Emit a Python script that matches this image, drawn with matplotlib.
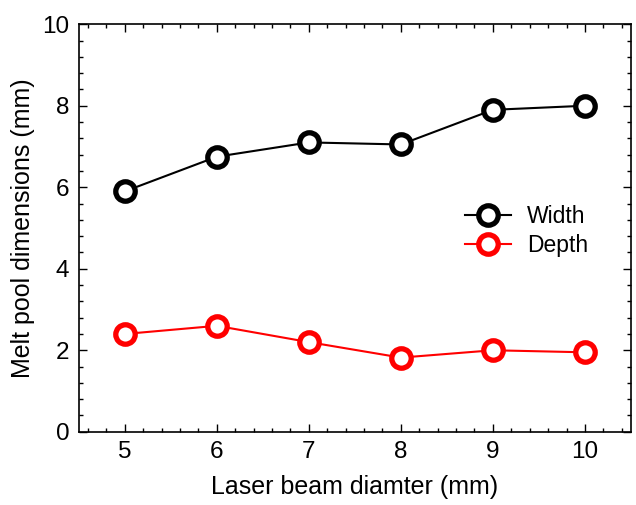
import numpy as np
import matplotlib.pyplot as plt
from matplotlib.ticker import MultipleLocator

plt.rcParams['font.family'] = ['Liberation Sans', 'DejaVu Sans']

# Data
diameter = [5, 6, 7, 8, 9, 10]
width = [5.9, 6.75, 7.1, 7.05, 7.9, 8.0]
depth = [2.4, 2.6, 2.2, 1.82, 2.0, 1.95]

fig = plt.figure(figsize=(6.36, 5.05), dpi=100)
ax = fig.add_axes([0.124, 0.145, 0.868, 0.807])

marker_style = dict(marker='o', markersize=14, markeredgewidth=3.8,
                    markerfacecolor='white', linewidth=1.5)
ax.plot(diameter, width, color='black', label='Width', **marker_style)
ax.plot(diameter, depth, color='red', label='Depth', **marker_style)

ax.set_xlim(4.5, 10.5)
ax.set_ylim(0, 10)
ax.xaxis.set_major_locator(MultipleLocator(1))
ax.xaxis.set_minor_locator(MultipleLocator(0.2))
ax.yaxis.set_major_locator(MultipleLocator(2))
ax.yaxis.set_minor_locator(MultipleLocator(0.4))
ax.tick_params(which='both', direction='in', top=True, right=True, labelsize=17.5, width=1)
ax.tick_params(which='major', length=6, pad=7)
ax.tick_params(which='minor', length=3)
for s in ax.spines.values():
    s.set_linewidth(1.2)

ax.set_xlabel('Laser beam diamter (mm)', fontsize=18, labelpad=8)
ax.set_ylabel('Melt pool dimensions (mm)', fontsize=18, labelpad=5)

ax.legend(loc='upper left', bbox_to_anchor=(0.662, 0.607), frameon=False, fontsize=16.5,
          handlelength=2.0, handletextpad=0.7, labelspacing=0.25)

fig.savefig('out.png', dpi=100)
